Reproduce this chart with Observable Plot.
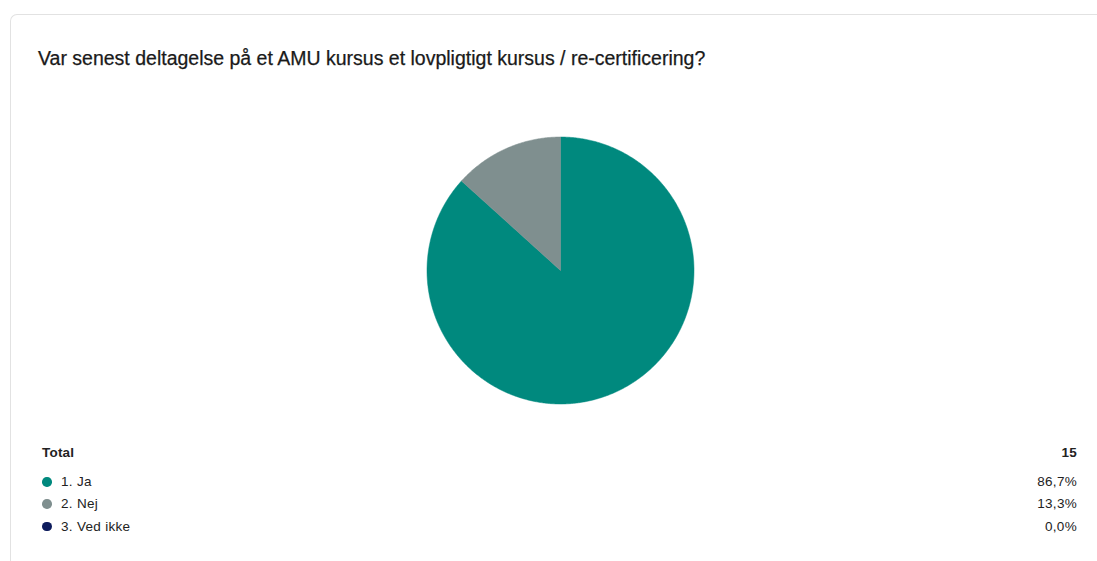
<!DOCTYPE html>
<html>
<head>
<meta charset="utf-8">
<script src="https://cdn.jsdelivr.net/npm/d3@7"></script>
<script src="https://cdn.jsdelivr.net/npm/@observablehq/plot@0.6"></script>
<style>
  html, body { margin: 0; padding: 0; background: #fff; width: 1097px; height: 561px; overflow: hidden; font-family: "Liberation Sans", Arial, sans-serif; color: #222; }
  #card { position: absolute; left: 10px; top: 14px; width: 1100px; height: 600px; border-left: 1.5px solid #e2e2e2; border-top: 1.5px solid #e2e2e2; border-top-left-radius: 7px; box-sizing: border-box; }
  #title { position: absolute; left: 38px; top: 46px; font-size: 19.5px; line-height: 24px; white-space: nowrap; color: #1a1a1a; -webkit-text-stroke: 0.25px #1a1a1a; }
  #chart { position: absolute; left: 0; top: 100px; }
  .row { position: absolute; left: 42px; width: 1035px; font-size: 13.5px; letter-spacing: 0.3px; height: 16px; line-height: 16px; color: #222; }
  .row .lab { position: absolute; left: 19px; }
  .row .val { position: absolute; right: 0; }
  .row .dot { position: absolute; left: 0px; top: 3px; width: 9.5px; height: 9.5px; border-radius: 50%; }
  .total { font-weight: bold; letter-spacing: 0.2px; }
  .total .lab { left: 0; }
</style>
</head>
<body>
<div id="card"></div>
<div id="title"></div>
<div id="chart"></div>
<div id="legend"></div>
<script>
const titleText = "Var senest deltagelse på et AMU kursus et lovpligtigt kursus / re-certificering?";
const categories = ["1. Ja", "2. Nej", "3. Ved ikke"];
const shares = [86.7, 13.3, 0.0];
const valueLabels = ["86,7%", "13,3%", "0,0%"];
const colors = ["#00897e", "#7f8f8f", "#0d1b5c"];
const totalLabel = "Total";
const totalCount = 15;

document.getElementById("title").textContent = titleText;

// Build wedge outlines from the pie layout (start at 12 o'clock, clockwise)
const pie = d3.pie().sort(null).value(d => d.share);
const arcs = pie(categories.map((c, i) => ({category: c, share: shares[i]})));
const wedgePts = [];
for (const a of arcs) {
  if (a.endAngle - a.startAngle <= 0) continue;
  const c = a.data.category;
  wedgePts.push({category: c, x: 0, y: 0});
  const n = Math.max(2, Math.ceil((a.endAngle - a.startAngle) / (Math.PI / 360)));
  for (let k = 0; k <= n; k++) {
    const t = a.startAngle + (a.endAngle - a.startAngle) * k / n;
    wedgePts.push({category: c, x: Math.sin(t), y: Math.cos(t)});
  }
  wedgePts.push({category: c, x: 0, y: 0});
}

const W = 1097, H = 340, cx = 560, cy = 170, R = 133.5;
const chart = Plot.plot({
  width: W,
  height: H,
  marginLeft: cx - R,
  marginRight: W - cx - R,
  marginTop: cy - R,
  marginBottom: H - cy - R,
  x: {domain: [-1, 1], axis: null},
  y: {domain: [-1, 1], axis: null},
  color: {domain: categories, range: colors},
  marks: [
    Plot.line(wedgePts, {x: "x", y: "y", z: "category", fill: "category", stroke: "category", strokeWidth: 0.5, curve: "linear"})
  ]
});
document.getElementById("chart").appendChild(chart);

// Legend
const legend = document.getElementById("legend");
function addRow(top, cls, label, value, color) {
  const r = document.createElement("div");
  r.className = "row " + cls;
  r.style.top = top + "px";
  if (color) {
    const d = document.createElement("span");
    d.className = "dot";
    d.style.background = color;
    r.appendChild(d);
  }
  const l = document.createElement("span"); l.className = "lab"; l.textContent = label; r.appendChild(l);
  const v = document.createElement("span"); v.className = "val"; v.textContent = value; r.appendChild(v);
  legend.appendChild(r);
}
addRow(445, "total", totalLabel, String(totalCount), null);
categories.forEach((c, i) => addRow(474 + i * 22.3, "", c, valueLabels[i], colors[i]));
</script>
</body>
</html>
